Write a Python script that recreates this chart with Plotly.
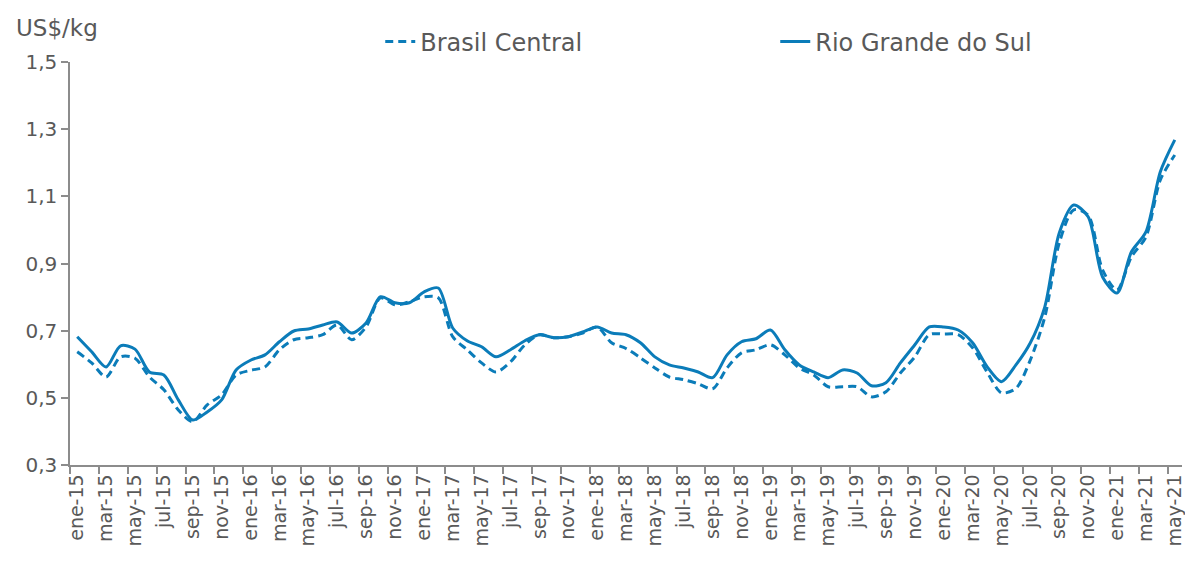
import plotly.graph_objects as go

months = ["ene", "feb", "mar", "abr", "may", "jun", "jul", "ago", "sep", "oct", "nov", "dic"]
categories = [f"{m}-{y}" for y in range(15, 22) for m in months][:77]

brasil_central = [
    0.637, 0.604, 0.562, 0.622, 0.618, 0.562, 0.524, 0.464, 0.429, 0.479,
    0.509, 0.568, 0.582, 0.592, 0.643, 0.673, 0.679, 0.688, 0.717, 0.673,
    0.711, 0.798, 0.777, 0.786, 0.801, 0.798, 0.682, 0.643, 0.604, 0.577,
    0.607, 0.658, 0.688, 0.679, 0.682, 0.693, 0.711, 0.664, 0.647, 0.619,
    0.589, 0.562, 0.554, 0.542, 0.527, 0.589, 0.634, 0.643, 0.658, 0.628,
    0.589, 0.568, 0.533, 0.533, 0.533, 0.503, 0.518, 0.574, 0.622, 0.688,
    0.690, 0.688, 0.649, 0.577, 0.515, 0.528, 0.613, 0.741, 0.961, 1.060,
    1.044, 0.881, 0.821, 0.920, 0.979, 1.149, 1.223,
]
rio_grande_do_sul = [
    0.682, 0.637, 0.592, 0.655, 0.645, 0.577, 0.568, 0.494, 0.434, 0.458,
    0.494, 0.583, 0.612, 0.628, 0.667, 0.699, 0.705, 0.717, 0.726, 0.693,
    0.723, 0.801, 0.783, 0.783, 0.815, 0.827, 0.708, 0.670, 0.652, 0.622,
    0.643, 0.670, 0.688, 0.679, 0.682, 0.696, 0.711, 0.693, 0.688, 0.664,
    0.622, 0.598, 0.589, 0.577, 0.560, 0.628, 0.667, 0.676, 0.702, 0.643,
    0.598, 0.577, 0.560, 0.583, 0.574, 0.536, 0.545, 0.604, 0.658, 0.711,
    0.711, 0.702, 0.664, 0.593, 0.548, 0.598, 0.664, 0.771, 0.991, 1.074,
    1.039, 0.860, 0.812, 0.935, 0.994, 1.173, 1.268,
]

x_idx = list(range(len(categories)))
label_idx = x_idx[::2]
label_text = [categories[i] for i in label_idx]
boundary_ticks = [i - 0.5 for i in x_idx[::2]]

color = "#0b7cb9"
grey_text = "#595959"
axis_col = "#8c8c8c"
font_family = "'DejaVu Sans', sans-serif"

fig = go.Figure()
fig.add_trace(go.Scatter(
    x=x_idx, y=brasil_central, name="Brasil Central", mode="lines",
    line=dict(color=color, width=3, dash="8px,5px", shape="spline", smoothing=0.8),
))
fig.add_trace(go.Scatter(
    x=x_idx, y=rio_grande_do_sul, name="Rio Grande do Sul", mode="lines",
    line=dict(color=color, width=3, shape="spline", smoothing=0.8),
))

# the page body adds an 8px offset at left/top, so the figure is sized to compensate
fig.update_layout(
    width=1185, height=571,
    margin=dict(l=62, r=11, t=54, b=114, autoexpand=False),
    paper_bgcolor="white", plot_bgcolor="white",
    separators=",.",
    font=dict(family=font_family, color=grey_text, size=20),
    showlegend=True,
    legend=dict(
        orientation="h", x=0.279, y=1.0496, xanchor="left", yanchor="middle",
        font=dict(size=24, color=grey_text),
        entrywidth=350, entrywidthmode="pixels",
        bgcolor="rgba(0,0,0,0)",
    ),
    xaxis=dict(
        range=[-0.5, 76.5], showgrid=False, zeroline=False,
        showline=True, linecolor=axis_col, linewidth=1.5,
        tickmode="array", tickvals=label_idx, ticktext=label_text,
        ticks="", tickangle=-90, tickfont=dict(size=19, color=grey_text),
        minor=dict(tickmode="array", tickvals=boundary_ticks, ticks="outside",
                   ticklen=7, tickcolor=axis_col, tickwidth=1.5),
    ),
    yaxis=dict(
        range=[0.3, 1.5], dtick=0.2, tick0=0.3, tickformat=".1f",
        showgrid=False, zeroline=False,
        showline=True, linecolor=axis_col, linewidth=1.5,
        ticks="outside", ticklen=7, tickcolor=axis_col, tickwidth=1.5,
        tickfont=dict(size=20, color=grey_text),
    ),
    annotations=[dict(
        text="US$/kg", xref="paper", yref="paper", x=-0.0504, y=1.084,
        xanchor="left", yanchor="middle", showarrow=False,
        font=dict(size=23, color=grey_text),
    )],
)

fig.write_html("out.html")
